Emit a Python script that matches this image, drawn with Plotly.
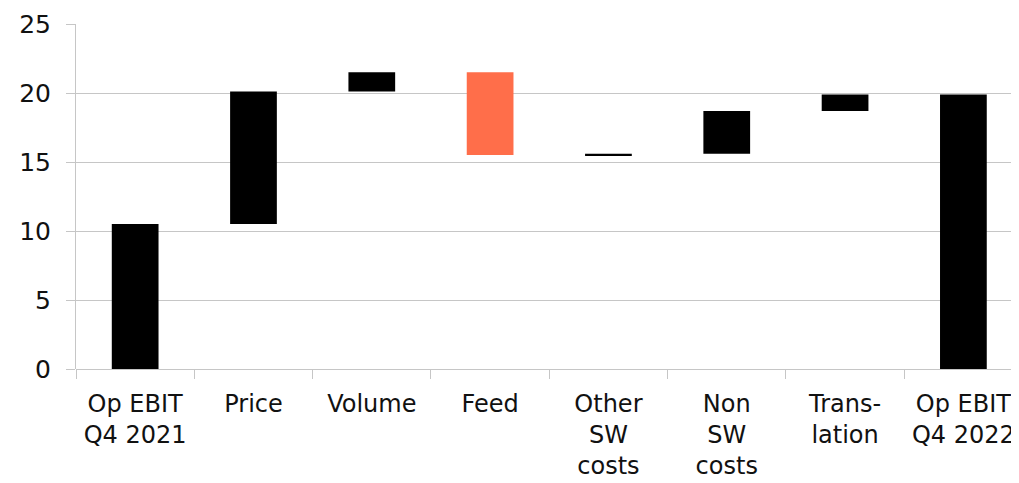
import plotly.graph_objects as go

categories = ["Op EBIT<br>Q4 2021", "Price", "Volume", "Feed",
              "Other<br>SW<br>costs", "Non<br>SW<br>costs", "Trans-<br>lation", "Op EBIT<br>Q4 2022"]
values = [10.5, 9.6, 1.4, -6.0, 0.1, 3.1, 1.2, 19.9]
measures = ["absolute", "relative", "relative", "relative",
            "relative", "relative", "relative", "total"]
y_ticks = [0, 5, 10, 15, 20, 25]

FONT = "Century Gothic, DejaVu Sans, sans-serif"
GRID = "#c6c6c6"

fig = go.Figure(go.Waterfall(
    x=categories,
    y=values,
    measure=measures,
    width=0.395,
    increasing=dict(marker=dict(color="#000000", line=dict(width=0))),
    decreasing=dict(marker=dict(color="#FF6E4A", line=dict(width=0))),
    totals=dict(marker=dict(color="#000000", line=dict(width=0))),
    connector=dict(visible=False),
    textinfo="none",
    hoverinfo="x+y",
))

fig.update_layout(
    width=1011, height=475,
    margin=dict(l=68, r=0, t=16, b=114, autoexpand=False),
    paper_bgcolor="white", plot_bgcolor="white",
    showlegend=False,
    font=dict(family=FONT, size=24, color="#111111"),
)
fig.update_xaxes(
    range=[-0.5, 7.47],
    automargin=False,
    tickangle=0,
    tickson="boundaries",
    ticks="outside", ticklen=9, tickcolor=GRID, tickwidth=1,
    showline=False, showgrid=False,
    ticklabelstandoff=18,
    tickfont=dict(family=FONT, size=24, color="#111111"),
)
fig.update_yaxes(
    range=[0, 25],
    automargin=False,
    tickvals=y_ticks,
    ticks="outside", ticklen=9, tickcolor=GRID, tickwidth=1,
    showgrid=True, gridcolor=GRID, gridwidth=1,
    showline=True, linecolor=GRID, linewidth=1,
    zeroline=True, zerolinecolor=GRID, zerolinewidth=1,
    ticklabelstandoff=10,
    tickfont=dict(family=FONT, size=25, color="#111111"),
)

fig.write_html("out.html")
